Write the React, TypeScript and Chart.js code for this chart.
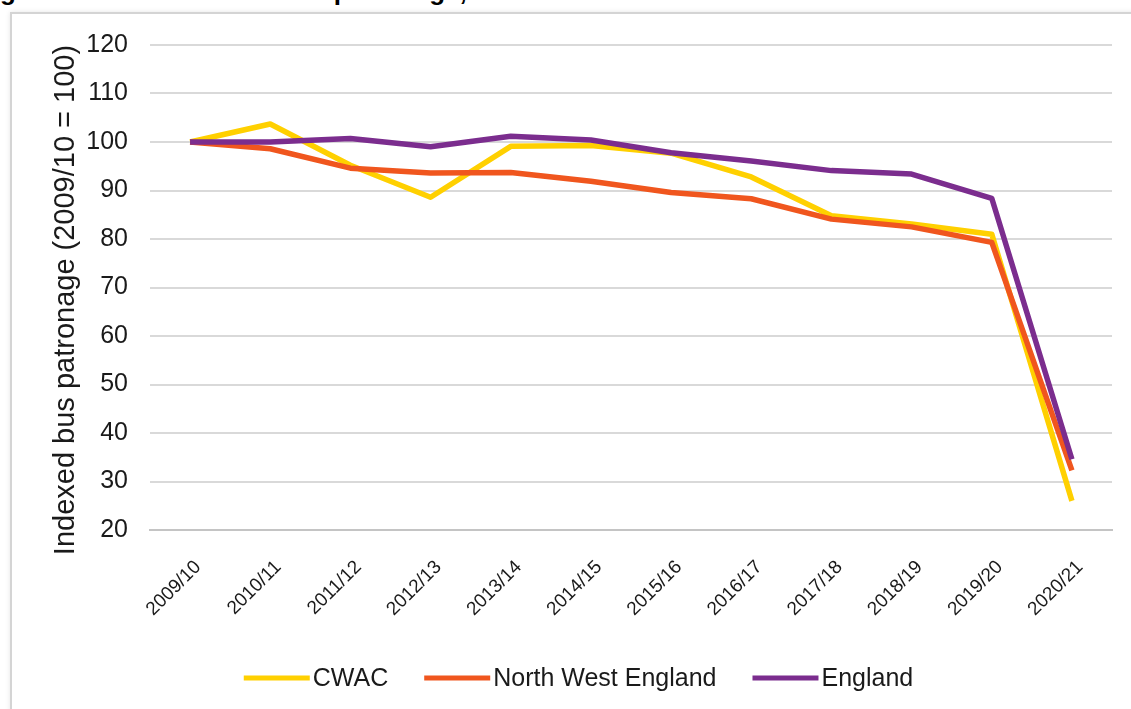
import React, { useEffect, useRef } from 'react';
import { Chart, registerables } from 'chart.js';

Chart.register(...registerables);

const years = ['2009/10', '2010/11', '2011/12', '2012/13', '2013/14', '2014/15', '2015/16', '2016/17', '2017/18', '2018/19', '2019/20', '2020/21'];
const cwac = [100, 103.7, 95.2, 88.6, 99.1, 99.3, 97.7, 92.8, 84.8, 83.1, 81.0, 26.0];
const northWestEngland = [100, 98.6, 94.6, 93.6, 93.7, 91.9, 89.6, 88.3, 84.1, 82.5, 79.3, 32.3];
const england = [100, 100.0, 100.7, 99.0, 101.2, 100.4, 97.8, 96.1, 94.1, 93.4, 88.4, 34.6];
const seriesNames = ['CWAC', 'North West England', 'England'];
const seriesColors = ['#FFD000', '#F0561E', '#7B2D8E'];
const yTitle = 'Indexed bus patronage (2009/10 = 100)';
const figureTitle = 'Figure 14: Indexed local bus patronage, CWAC';

const FONT = '"Liberation Sans", Arial, Helvetica, sans-serif';
const TEXT = '#1a1a1a';

const overlay = {
  id: 'overlay',
  afterDraw(chart: any) {
    const ctx = chart.ctx as CanvasRenderingContext2D;
    // y-axis title
    ctx.save();
    ctx.font = `29px ${FONT}`;
    ctx.fillStyle = TEXT;
    ctx.translate(54, 286);
    ctx.rotate(-Math.PI / 2);
    ctx.textAlign = 'center';
    ctx.textBaseline = 'middle';
    ctx.fillText(yTitle, 0, 0);
    ctx.restore();

    // legend
    ctx.save();
    ctx.font = `25px ${FONT}`;
    const lineLen = 66;
    const gapText = 3;
    const gapItem = 36;
    const items = chart.data.datasets.map((ds: any) => ({
      label: ds.label as string,
      color: ds.borderColor as string,
      w: ctx.measureText(ds.label).width,
    }));
    const total = items.reduce((s: number, it: any) => s + lineLen + gapText + it.w, 0) + gapItem * (items.length - 1);
    let x = 566.5 - total / 2;
    const y = 664;
    ctx.textBaseline = 'middle';
    ctx.textAlign = 'left';
    for (const it of items) {
      ctx.strokeStyle = it.color;
      ctx.lineWidth = 5;
      ctx.lineCap = 'butt';
      ctx.beginPath();
      ctx.moveTo(x, y);
      ctx.lineTo(x + lineLen, y);
      ctx.stroke();
      ctx.fillStyle = TEXT;
      ctx.fillText(it.label, x + lineLen + gapText, y + 1);
      x += lineLen + gapText + it.w + gapItem;
    }
    ctx.restore();
  },
};

export default function App() {
  const ref = useRef<HTMLCanvasElement | null>(null);

  useEffect(() => {
    if (!ref.current) return;
    const data = [cwac, northWestEngland, england];
    const chart = new Chart(ref.current, {
      type: 'line',
      data: {
        labels: years,
        datasets: seriesNames.map((name, i) => ({
          label: name,
          data: data[i],
          borderColor: seriesColors[i],
          backgroundColor: seriesColors[i],
          order: 3 - i,
        })),
      },
      options: {
        responsive: false,
        animation: false,
        devicePixelRatio: 1,
        layout: { padding: { top: 31, right: 19, bottom: 90, left: 0 } },
        plugins: { legend: { display: false }, tooltip: { enabled: false }, title: { display: false } },
        elements: {
          point: { radius: 0 },
          line: { borderWidth: 5.5, tension: 0, borderJoinStyle: 'round', borderCapStyle: 'butt' },
        },
        scales: {
          x: {
            offset: true,
            grid: { display: false, drawTicks: false },
            border: { display: true, color: '#c4c4c4', width: 2 },
            ticks: {
              autoSkip: false,
              minRotation: 45,
              maxRotation: 45,
              padding: 26,
              labelOffset: 8,
              color: TEXT,
              font: { family: FONT, size: 19 },
            },
            afterFit: (s: any) => { s.height = 89; },
          },
          y: {
            min: 20,
            max: 120,
            ticks: { stepSize: 10, padding: 22, color: TEXT, font: { family: FONT, size: 25 } },
            grid: { color: '#d9d9d9', lineWidth: 2, drawTicks: false },
            border: { display: false },
            afterFit: (s: any) => { s.width = 138; s.paddingTop = 0; s.paddingBottom = 0; },
          },
        },
      } as any,
      plugins: [overlay],
    });
    return () => chart.destroy();
  }, []);

  return (
    <div style={{ position: 'fixed', left: 0, top: 0, width: 1131, height: 709, overflow: 'hidden', background: '#fff' }}>
      <div
        style={{
          position: 'absolute', left: -23, top: -22, whiteSpace: 'nowrap',
          font: `bold 26px ${FONT}`, lineHeight: '26px', color: '#000',
        }}
      >
        {figureTitle}
      </div>
      <div
        style={{
          position: 'absolute', left: 10, top: 12, width: 1160, height: 740,
          border: '2px solid #d4d4d4', boxShadow: '0 0 5px rgba(0,0,0,0.10)', background: '#fff',
        }}
      />
      <canvas ref={ref} width={1119} height={695} style={{ position: 'absolute', left: 12, top: 14, width: 1119, height: 695 }} />
    </div>
  );
}
